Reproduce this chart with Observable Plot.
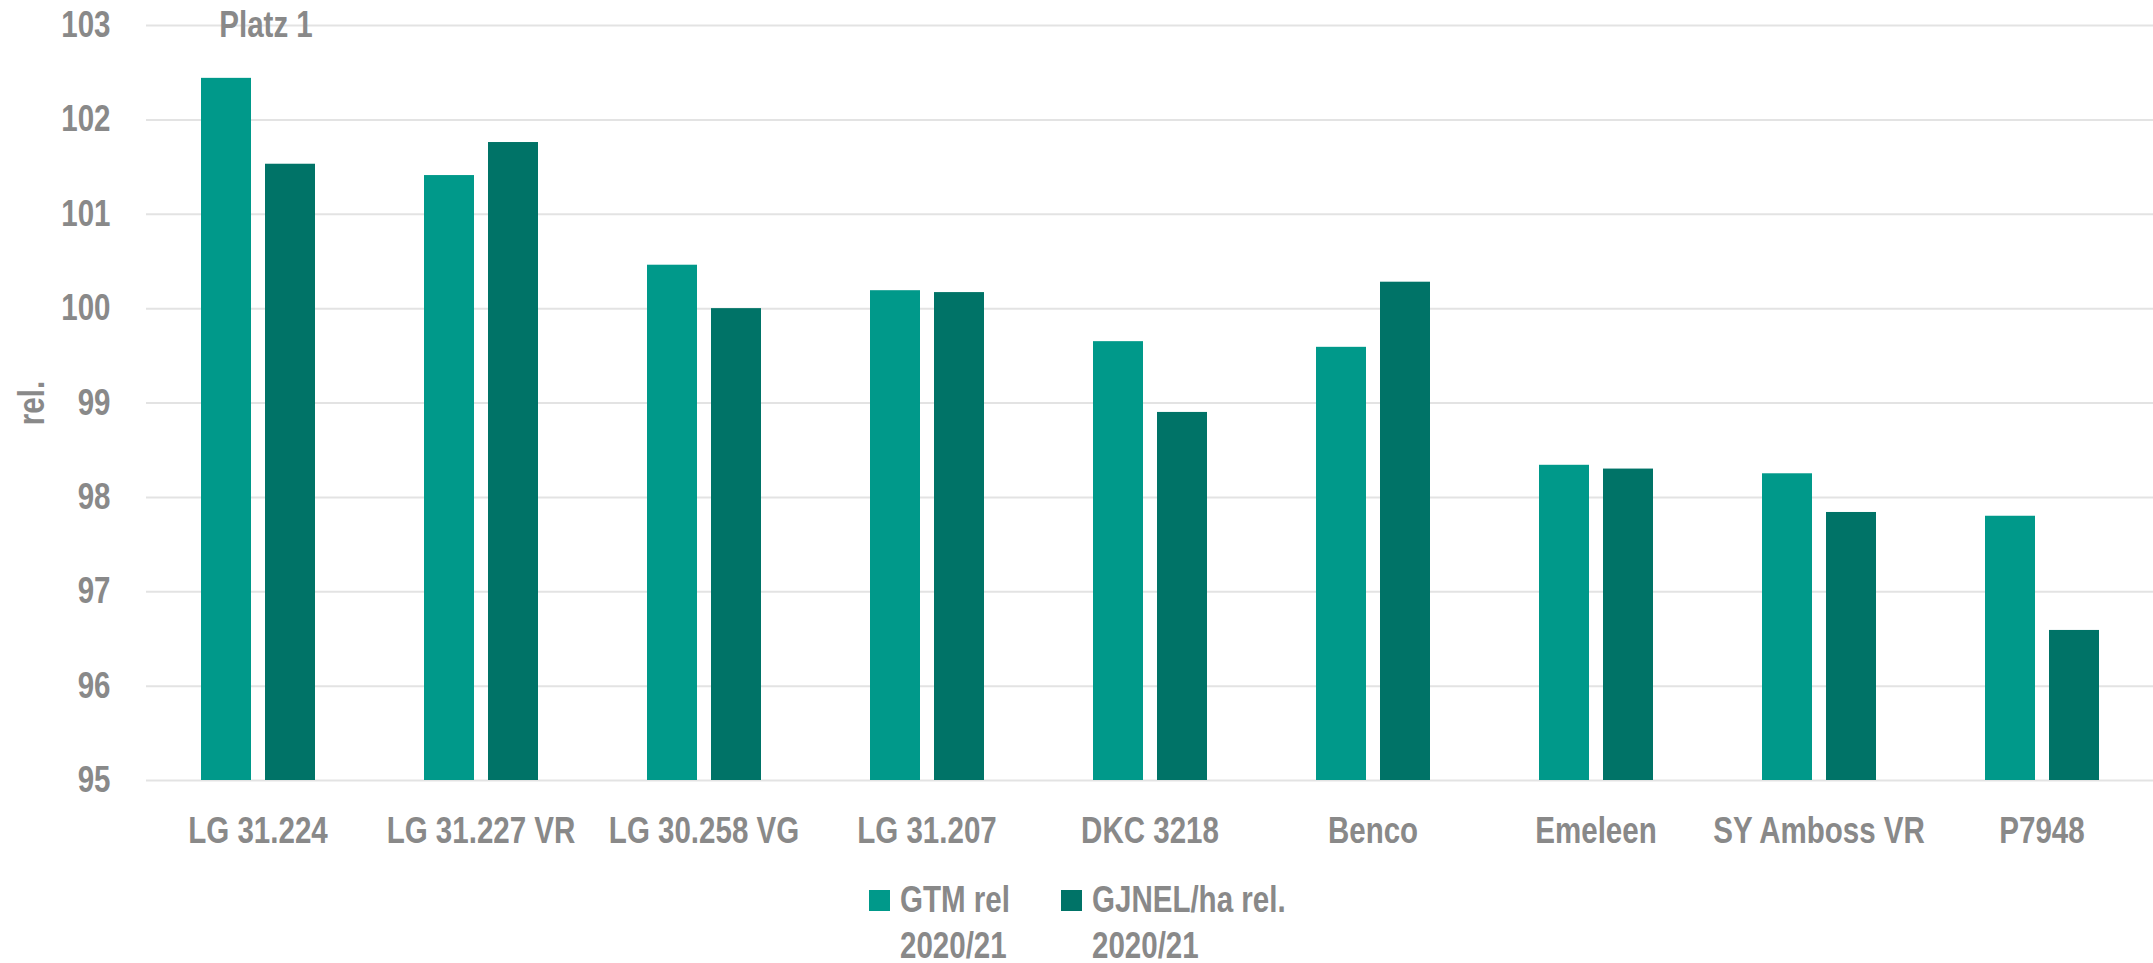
<!DOCTYPE html>
<html>
<head>
<meta charset="utf-8">
<script src="https://cdn.jsdelivr.net/npm/d3@7"></script>
<script src="https://cdn.jsdelivr.net/npm/@observablehq/plot@0.6"></script>
<style>
  html, body { margin: 0; padding: 0; background: #fff; }
  body { position: relative; width: 2153px; height: 963px; overflow: hidden; font-family: "Liberation Sans", Arial, sans-serif; }
  #legend { position: absolute; left: 869px; top: 877px; display: flex;
            font-size: 36px; font-weight: bold; color: #898989; line-height: 46px; }
  .item { display: flex; align-items: flex-start; }
  .item:first-child { width: 192px; }
  .sw { width: 21px; height: 21px; margin-top: 13px; margin-right: 10px; flex: none; }
  .lbl { white-space: pre; transform: scaleX(0.82); transform-origin: left top; }
</style>
</head>
<body>
<div id="chart"></div>
<div id="legend"></div>
<script>
const varieties = ["LG 31.224", "LG 31.227 VR", "LG 30.258 VG", "LG 31.207", "DKC 3218", "Benco", "Emeleen", "SY Amboss VR", "P7948"];
const seriesNames = ["GTM rel 2020/21", "GJNEL/ha rel. 2020/21"];
const gtmValues = [102.44, 101.41, 100.46, 100.19, 99.65, 99.59, 98.34, 98.25, 97.80];
const gjnelValues = [101.53, 101.76, 100.00, 100.17, 98.90, 100.28, 98.30, 97.84, 96.59];
const seriesColors = ["#00998a", "#007367"];
const yTicks = [95, 96, 97, 98, 99, 100, 101, 102, 103];
const yLabel = "rel.";
const annotation = [{variety: "LG 31.224", text: "Platz 1"}];

const yMin = yTicks[0], yMax = yTicks[yTicks.length - 1];
const data = [];
varieties.forEach((v, i) => {
  data.push({variety: v, series: seriesNames[0], value: gtmValues[i]});
  data.push({variety: v, series: seriesNames[1], value: gjnelValues[i]});
});

const font = "'Liberation Sans', Arial, sans-serif";
const chart = Plot.plot({
  width: 2153,
  height: 860,
  marginLeft: 146,
  marginRight: 0,
  marginTop: 25,
  marginBottom: 80,
  style: {color: "#898989", fontFamily: font, fontSize: "36px", fontWeight: "bold", background: "#fff"},
  fx: {domain: varieties, padding: 0, label: null},
  x: {domain: seriesNames, paddingInner: 0.22, paddingOuter: 0.85, axis: null},
  y: {domain: [yMin, yMax], label: yLabel},
  color: {domain: seriesNames, range: seriesColors},
  marks: [
    Plot.gridY(yTicks, {stroke: "#e3e3e3", strokeOpacity: 1, strokeWidth: 2}),
    Plot.barY(data, {fx: "variety", x: "series", y1: yMin, y2: "value", fill: "series"}),
    Plot.text(annotation, {fx: "variety", y: yMax, text: "text", dx: 8, fill: "#898989", fontSize: 36, fontWeight: "bold"}),
    Plot.axisY(yTicks, {tickSize: 0, tickPadding: 36, tickFormat: d => String(d), label: yLabel, labelAnchor: "center", labelOffset: 128, labelArrow: "none"}),
    Plot.axisFx({anchor: "bottom", tickSize: 0, tickPadding: 37, label: null})
  ]
});
document.getElementById("chart").appendChild(chart);

// condense glyphs horizontally (the reference uses a narrow typeface)
chart.querySelectorAll("text").forEach(t => {
  const w = t.getComputedTextLength();
  if (w > 0) {
    t.setAttribute("textLength", (w * 0.82).toFixed(1));
    t.setAttribute("lengthAdjust", "spacingAndGlyphs");
  }
});

const legend = document.getElementById("legend");
seriesNames.forEach((name, i) => {
  const item = document.createElement("div");
  item.className = "item";
  const sw = document.createElement("div");
  sw.className = "sw";
  sw.style.background = seriesColors[i];
  const lbl = document.createElement("div");
  lbl.className = "lbl";
  lbl.textContent = name.replace(/ (\S+)$/, "\n$1");
  item.appendChild(sw);
  item.appendChild(lbl);
  legend.appendChild(item);
});
</script>
</body>
</html>
